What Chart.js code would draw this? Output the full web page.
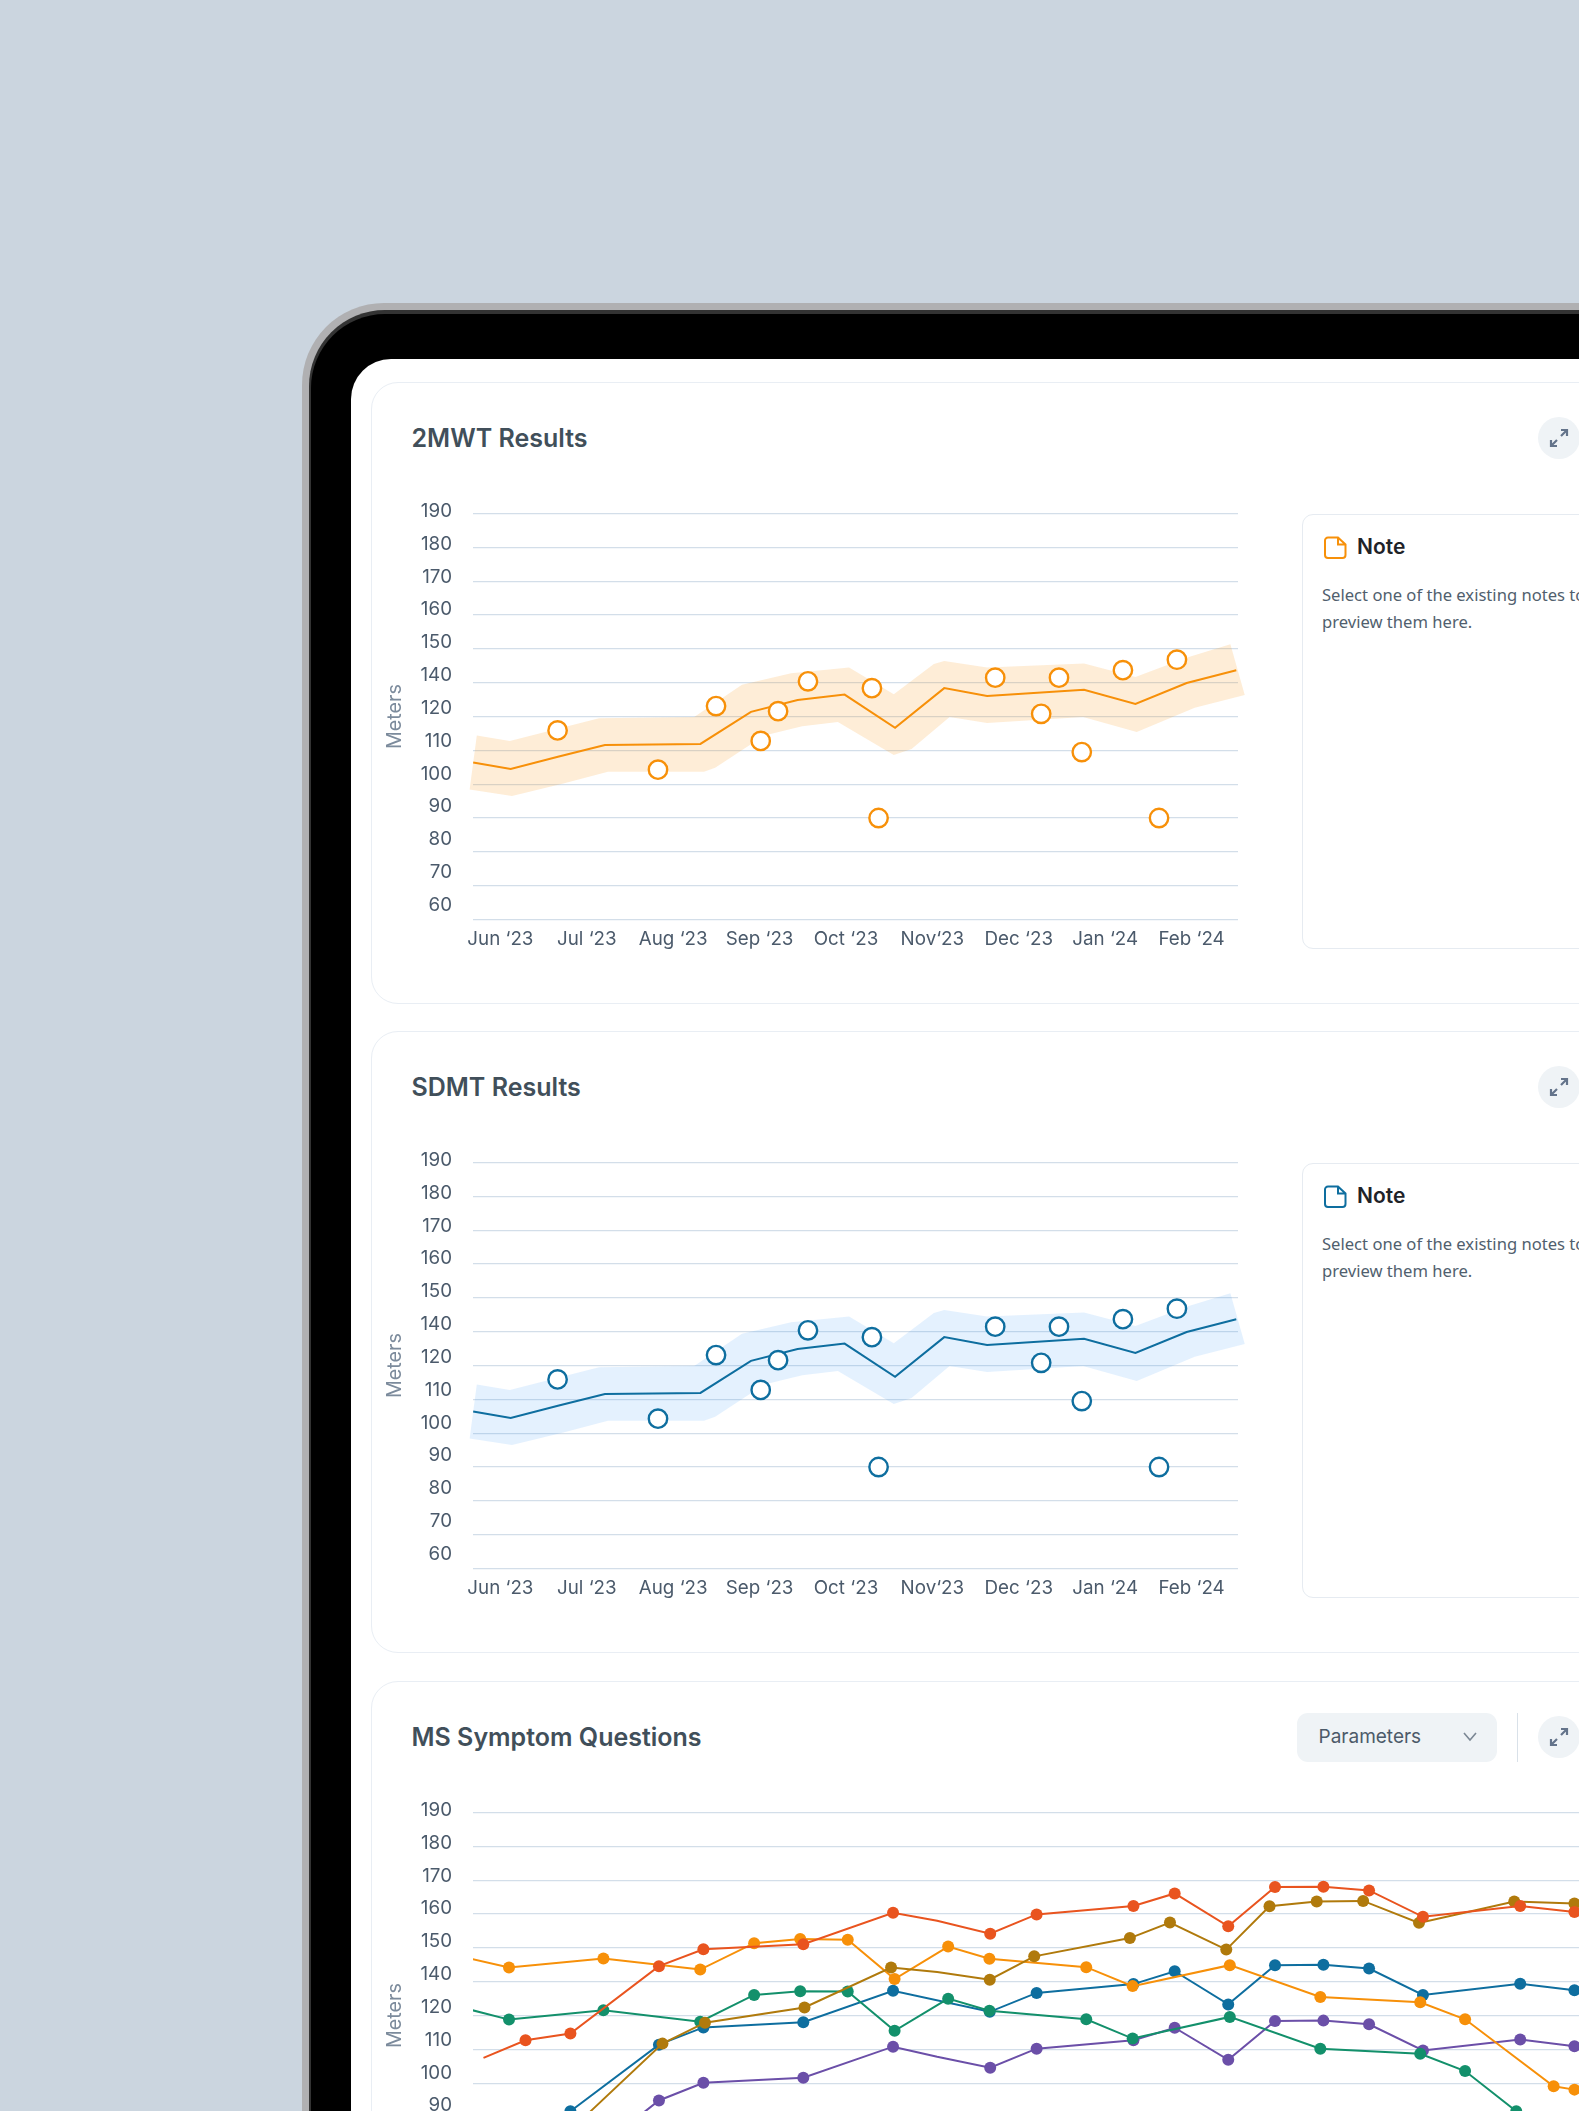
<!DOCTYPE html>
<html>
<head>
<meta charset="utf-8">
<script src="https://cdn.jsdelivr.net/npm/chart.js@4"></script>
<style>
html,body{margin:0;padding:0;width:1579px;height:2111px;overflow:hidden;background:#cbd5df;}
.abs,canvas{position:absolute;}
.title{position:absolute;left:411.5px;font:600 25px Inter,sans-serif;color:#414f5a;line-height:30px;white-space:nowrap;}
.card{position:absolute;left:371px;width:1500px;height:622px;box-sizing:border-box;border:1.5px solid #e9eef4;border-radius:27px;background:#fff;}
.note{position:absolute;left:1302px;width:500px;height:435px;box-sizing:border-box;border:1.5px solid #e6ebf1;border-radius:11px;background:#fff;}
.noteh{position:absolute;left:1357px;font:600 21px Inter,sans-serif;color:#1f2328;line-height:26px;}
.notet{position:absolute;left:1322px;font:400 16.6px/26.6px "Noto Sans",sans-serif;color:#515f6e;white-space:nowrap;}
.btn{position:absolute;left:1537.5px;width:42px;height:42px;border-radius:50%;background:#eff3f6;}
</style>
</head>
<body>
<div class="abs" style="left:302px;top:303px;width:1800px;height:2200px;border-radius:82px;background:#b0b0b2;"></div>
<div class="abs" style="left:309px;top:310px;width:1800px;height:2200px;border-radius:76px;background:#333;"></div>
<div class="abs" style="left:311px;top:314px;width:1800px;height:2200px;border-radius:74px;background:#000;"></div>
<div class="abs" style="left:351px;top:359px;width:1800px;height:2200px;border-radius:40px;background:#fff;"></div>

<div class="card" style="top:382px;"></div>
<div class="card" style="top:1031px;"></div>
<div class="card" style="top:1681px;"></div>

<div class="title" style="top:423px;">2MWT Results</div>
<div class="title" style="top:1072px;">SDMT Results</div>
<div class="title" style="top:1722px;">MS Symptom Questions</div>

<div class="btn" style="top:417px;"><svg width="42" height="42" viewBox="0 0 42 42" fill="none" stroke="#64748b" stroke-width="2.2"><path d="M23 19l6-6M23 13h6v6M19 23l-6 6M13 23v6h6"/></svg></div>
<div class="btn" style="top:1066px;"><svg width="42" height="42" viewBox="0 0 42 42" fill="none" stroke="#64748b" stroke-width="2.2"><path d="M23 19l6-6M23 13h6v6M19 23l-6 6M13 23v6h6"/></svg></div>
<div class="btn" style="top:1716px;"><svg width="42" height="42" viewBox="0 0 42 42" fill="none" stroke="#64748b" stroke-width="2.2"><path d="M23 19l6-6M23 13h6v6M19 23l-6 6M13 23v6h6"/></svg></div>

<div class="note" style="top:514px;"></div>
<svg class="abs" style="left:1324px;top:536px;" width="23" height="23" viewBox="0 0 23 23" fill="none" stroke="#f79009" stroke-width="2"><path d="M4 1.5h10l7.5 7v10.5a3 3 0 0 1-3 3H4a3 3 0 0 1-3-3V4.5a3 3 0 0 1 3-3zM14 1.5v7h7.5"/></svg>
<div class="noteh" style="top:534px;">Note</div>
<div class="notet" style="top:582px;">Select one of the existing notes to<br>preview them here.</div>

<div class="note" style="top:1163px;"></div>
<svg class="abs" style="left:1324px;top:1185px;" width="23" height="23" viewBox="0 0 23 23" fill="none" stroke="#0e6e9f" stroke-width="2"><path d="M4 1.5h10l7.5 7v10.5a3 3 0 0 1-3 3H4a3 3 0 0 1-3-3V4.5a3 3 0 0 1 3-3zM14 1.5v7h7.5"/></svg>
<div class="noteh" style="top:1183px;">Note</div>
<div class="notet" style="top:1231px;">Select one of the existing notes to<br>preview them here.</div>

<div class="abs" style="left:1296.5px;top:1713px;width:200.5px;height:48.5px;border-radius:11px;background:#eff3f6;"></div>
<div class="abs" style="left:1318.5px;top:1725px;font:400 19px/24px Inter,sans-serif;color:#4c5a69;">Parameters</div>
<svg class="abs" style="left:1462px;top:1731px;" width="16" height="12" viewBox="0 0 16 12" fill="none" stroke="#7b8794" stroke-width="1.6"><path d="M2 2l6 7 6-7"/></svg>
<div class="abs" style="left:1517px;top:1713px;width:1.2px;height:48.5px;background:#d9e1e9;"></div>

<canvas id="c1" style="left:380px;top:490px;" width="880" height="490"></canvas>
<canvas id="c2" style="left:380px;top:1139px;" width="880" height="490"></canvas>
<canvas id="c3" style="left:380px;top:1789px;" width="1300" height="490"></canvas>

<script>
const monthLabels = ['Jun ‘23','Jul ‘23','Aug ‘23','Sep ‘23','Oct ‘23','Nov‘23','Dec ‘23','Jan ‘24','Feb ‘24'];
const yTickLabels = ['60','70','80','90','100','110','120','140','150','160','170','180','190'];

const trendX = [-0.315,0.119,0.677,1.21,2.315,2.90,3.44,3.984,4.568,5.137,5.633,6.755,7.35,7.943,8.517];
const trendY = [106.4,104.5,108.2,111.6,111.9,121.4,124.9,126.5,116.7,128.4,126.1,127.9,123.7,129.9,133.7];
const upperX = [-0.273,0.109,0.677,1.142,2.243,2.796,3.365,4.036,4.553,5.017,5.137,5.633,6.755,7.35,7.958,8.449];
const upperY = [114.4,112.8,116.5,119.5,119.9,129.4,132.8,134.5,126.6,135.5,136.4,134.5,135.7,131.7,137.5,141.4];
const lowerX = [-0.356,0.134,0.729,1.245,2.356,2.486,3.054,3.493,3.906,4.553,4.759,5.199,5.633,6.744,7.365,8.036,8.615];
const lowerY = [98.4,96.5,100.2,103.7,103.7,104.9,114.4,117.1,118.4,108.6,110.4,119.9,118.1,119.9,115.4,122.6,126.4];
const resultX = [0.662,1.824,2.496,3.013,3.214,3.56,4.30,4.377,5.727,6.465,6.259,6.729,7.205,7.83,7.623];
const resultY = [115.9,104.3,123.1,112.8,121.6,130.4,128.4,90,131.5,131.5,120.8,109.5,133.7,136.8,90];

const redX = [-0.195,0.294,0.816,1.846,2.363,3.525,4.569,5.082,5.699,6.239,7.365,7.845,8.468,9.012,9.575,10.106,10.733,11.864,12.495];
const redY = [107.5,112.7,114.7,134.6,139.6,141.1,150.4,148,144.2,149.9,152.4,156.1,146.4,158,158.1,157,149.2,152.4,150.6];
const brownX = [0.55,1.887,2.381,3.539,4.546,5.082,5.694,6.211,7.324,7.79,8.445,8.948,9.497,10.037,10.687,11.795,12.495];
const brownY = [79.7,111.7,117.9,122.4,134.2,132.9,130.6,137.5,142.9,147.5,139.5,152.3,153.7,153.9,147.4,153.7,153.1];
const yellowX = [-0.328,0.102,1.20,2.326,2.953,3.489,4.042,4.587,5.21,5.69,6.816,7.356,8.486,9.539,10.701,11.223,12.253,12.495];
const yellowY = [136.7,134.2,136.9,133.6,141.4,142.6,142.4,130.8,140.4,136.8,134.3,128.7,134.9,125.5,123.9,118.9,99.1,98.1];
const greenX = [-0.328,0.102,1.20,2.326,2.953,3.489,4.042,4.587,5.21,5.69,6.816,7.356,8.486,9.539,10.701,11.223,11.818,12.25];
const greenY = [121.6,118.8,121.6,118.2,126.1,127.2,127.1,115.5,125,121.4,118.9,113.2,119.6,110.2,108.7,103.6,91.7,80];
const purpleX = [1.237,1.846,2.363,3.525,4.569,5.082,5.699,6.239,7.365,7.845,8.468,9.012,9.575,10.106,10.733,11.864,12.495];
const purpleY = [82.7,94.9,100.1,101.6,110.8,107.8,104.6,110.2,112.7,116.4,106.9,118.4,118.5,117.4,109.7,112.9,110.9];
const blueX = [0.322,0.816,1.846,2.363,3.525,4.569,5.694,6.239,7.365,7.845,8.468,9.012,9.575,10.106,10.733,11.864,12.495];
const blueY = [82.2,91.7,111.4,116.5,118,127.3,121.1,126.7,129.3,133.1,123.3,134.9,135,133.9,126.1,129.4,127.5];
const unmarkedX = [-0.328,-0.195,5.082];

const zip = (xs, ys) => xs.map((x, i) => ({x, y: ys[i]}));
const FONT = 'Inter, sans-serif';

const bandPlugin = {
  id: 'band',
  beforeDatasetsDraw(chart, args, opts) {
    if (!opts.color) return;
    const sx = chart.scales.x, sy = chart.scales.y;
    const up = chart.data.datasets.find(d => d.label === 'Upper').data;
    const lo = chart.data.datasets.find(d => d.label === 'Lower').data;
    const ctx = chart.ctx;
    ctx.save();
    ctx.beginPath();
    up.forEach((p, i) => { const X = sx.getPixelForValue(p.x), Y = sy.getPixelForValue(p.y); i ? ctx.lineTo(X, Y) : ctx.moveTo(X, Y); });
    [...lo].reverse().forEach(p => ctx.lineTo(sx.getPixelForValue(p.x), sy.getPixelForValue(p.y)));
    ctx.closePath();
    ctx.fillStyle = opts.color;
    ctx.fill();
    ctx.restore();
  }
};

function baseOptions(xMax, rightPad, bandColor) {
  return {
    responsive: false, animation: false, devicePixelRatio: 1,
    layout: {padding: {top: 23.6, right: rightPad, left: 0, bottom: 0}},
    plugins: {legend: {display: false}, tooltip: {enabled: false}, band: {color: bandColor}},
    scales: {
      x: {
        type: 'linear', min: -0.317, max: xMax,
        grid: {display: false, drawTicks: false}, border: {display: false},
        ticks: {autoSkip: false, maxRotation: 0, padding: 8.5, color: '#4b5a6b', font: {family: FONT, size: 18.8},
                callback: v => monthLabels[v] ?? ''},
        afterBuildTicks(s) { s.ticks = monthLabels.map((_, i) => ({value: i})); },
        afterFit(s) { s.height = 60.5; }
      },
      y: {
        type: 'linear', min: 60, max: 180,
        grid: {color: '#d3dee9', lineWidth: 1.3, drawTicks: false}, border: {display: false},
        ticks: {display: false, stepSize: 10},
        afterFit(s) { s.width = 0; }
      },
      yLabels: {
        type: 'linear', position: 'left', min: 55.66, max: 179.3,
        grid: {display: false, drawTicks: false}, border: {display: false},
        ticks: {padding: 21, color: '#4b5a6b', font: {family: FONT, size: 18.8},
                callback: (v, i) => yTickLabels[i]},
        afterBuildTicks(s) { s.ticks = yTickLabels.map((_, i) => ({value: 60 + 10 * i})); },
        title: {display: true, text: 'Meters', color: '#7c8b9c', font: {family: FONT, size: 19.8}, padding: {top: 3, bottom: 0}},
        afterFit(s) { s.width = 93; s.paddingTop = 0; s.paddingBottom = 0; }
      }
    }
  };
}

function resultChart(id, color, bandColor) {
  new Chart(document.getElementById(id), {
    type: 'line',
    plugins: [bandPlugin],
    data: {datasets: [
      {type: 'scatter', label: 'Results', data: zip(resultX, resultY), showLine: false, pointRadius: 9.2, pointBorderWidth: 2.4,
       pointBackgroundColor: '#fff', pointBorderColor: color},
      {label: 'Trend', data: zip(trendX, trendY), borderColor: color, borderWidth: 2, pointRadius: 0, tension: 0},
      {label: 'Upper', data: zip(upperX, upperY), showLine: false, pointRadius: 0},
      {label: 'Lower', data: zip(lowerX, lowerY), showLine: false, pointRadius: 0}
    ]},
    options: baseOptions(8.537, 22, bandColor)
  });
}
resultChart('c1', '#f79009', 'rgba(247,144,9,0.16)');
resultChart('c2', '#0e6e9f', 'rgba(46,144,250,0.13)');

const line = (label, xs, ys, color) => ({
  label, data: zip(xs, ys), borderColor: color, backgroundColor: color, borderWidth: 2, tension: 0,
  pointBorderWidth: 0, pointRadius: c => unmarkedX.includes(c.raw.x) ? 0 : 6
});
new Chart(document.getElementById('c3'), {
  type: 'line',
  data: {datasets: [
    line('Red', redX, redY, '#e9541f'),
    line('Brown', brownX, brownY, '#b07a0c'),
    line('Yellow', yellowX, yellowY, '#f79009'),
    line('Green', greenX, greenY, '#13906b'),
    line('Purple', purpleX, purpleY, '#6b4fa8'),
    line('Blue', blueX, blueY, '#0e6e9f')
  ]},
  options: baseOptions(13.653, 0, null)
});
</script>
</body>
</html>
